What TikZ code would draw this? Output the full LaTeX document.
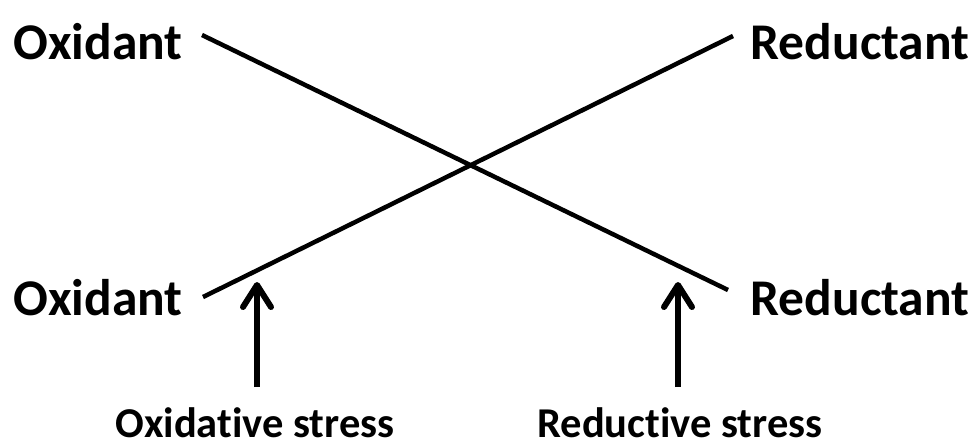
\documentclass[tikz,border=0pt]{standalone}
\usepackage{fontspec}
\setmainfont[Ligatures=NoCommon]{Carlito}
\usetikzlibrary{arrows.meta}
\tikzset{
  species/.style={font=\bfseries\fontsize{51.5}{60}\selectfont, inner sep=0pt},
  stress/.style={font=\bfseries\fontsize{42.5}{50}\selectfont, inner sep=0pt, text depth=0pt, anchor=base},
  crossline/.style={line width=4.5pt},
  stressarrow/.style={line width=6pt, -{Straight Barb[length=22pt, width=28pt, round]}}
}
\begin{document}
\begin{tikzpicture}[x=1pt, y=-1pt]
      \useasboundingbox (0,0) rectangle (979,447);
      \node[species] (oxtop) at (98,42) {Oxidant};
      \node[species] (redtop) at (860,42) {Reductant};
      \node[species] (oxbot) at (98,298) {Oxidant};
      \node[species] (redbot) at (860,298) {Reductant};
      \node[stress] (oxstress) at (255,437) {Oxidative stress};
      \node[stress] (redstress) at (680,437) {Reductive stress};
      % ends of the two crossing lines
      \coordinate (a1) at (202,35);
      \coordinate (a2) at (728,290);
      \coordinate (b1) at (203,297);
      \coordinate (b2) at (733,36);
      \draw[crossline] (a1) -- (a2);
      \draw[crossline] (b1) -- (b2);
      % arrow tips
      \coordinate (oxtip) at (257,282);
      \coordinate (redtip) at (678,282);
      \draw[stressarrow] (257,387) -- (oxtip);
      \draw[stressarrow] (678,387) -- (redtip);
    \end{tikzpicture}
\end{document}
